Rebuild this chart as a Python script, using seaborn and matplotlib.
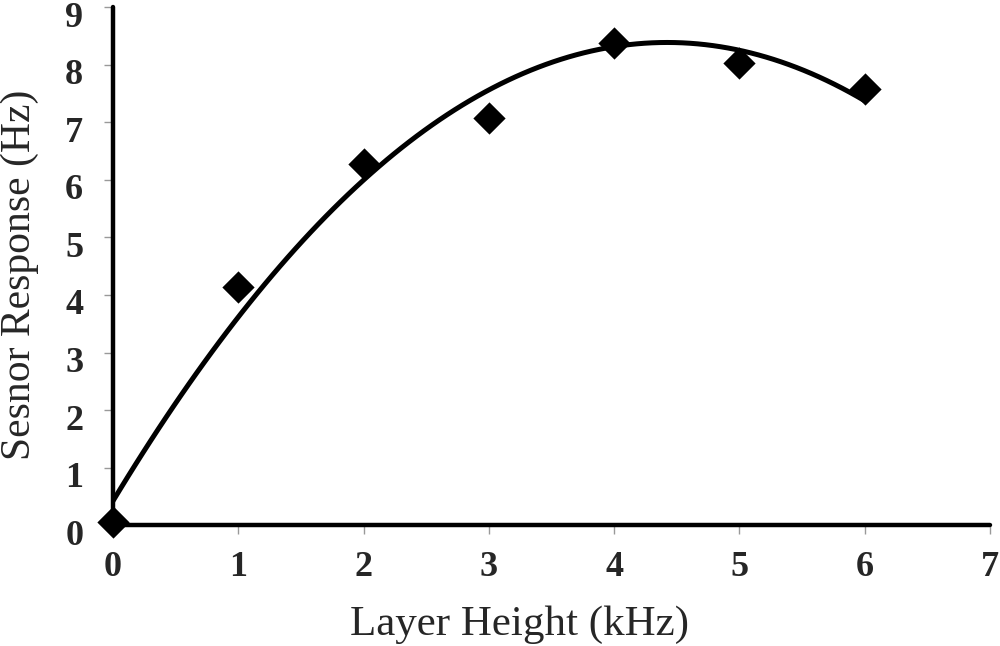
import pandas as pd
import matplotlib.pyplot as plt
import matplotlib.transforms as mtransforms
import seaborn as sns

# values
layer_height = [0, 1, 2, 3, 4, 5, 6]
sensor_response = [0.05, 4.14, 6.28, 7.08, 8.38, 8.03, 7.57]
x_ticks = [0, 1, 2, 3, 4, 5, 6, 7]
y_ticks = [0, 1, 2, 3, 4, 5, 6, 7, 8, 9]

df = pd.DataFrame({"height": layer_height, "response": sensor_response})

sns.set_theme(style="white")
plt.rcParams['font.family'] = ['Liberation Serif', 'DejaVu Serif']

fig = plt.figure(figsize=(10, 6.46), dpi=100)
ax = fig.add_axes([0.113, 0.187, 0.877, 0.802])

# quadratic trend line plus the measured points
sns.regplot(
    data=df, x="height", y="response", order=2, ci=None, ax=ax,
    marker="D", color="black",
    scatter_kws={"s": 270, "zorder": 4, "clip_on": False, "linewidths": 0, "alpha": 1},
    line_kws={"lw": 3.6, "color": "black"},
)

ax.set_xlim(0, 7)
ax.set_ylim(0, 9)
ax.set_xticks(x_ticks)
ax.set_yticks(y_ticks)
ax.set_xlabel("Layer Height (kHz)", fontsize=31, va="center")
ax.set_ylabel("Sesnor Response (Hz)", fontsize=30, va="center")
ax.xaxis.set_label_coords(0.463, -0.193)
ax.yaxis.set_label_coords(-0.106, 0.483)

ax.tick_params(axis="both", direction="out", length=6.5, width=1, color="#999999",
               bottom=True, left=True)
ax.tick_params(axis="x", pad=12)
ax.tick_params(axis="y", pad=15)

# y labels sit a little below their ticks, as in the original
shift = mtransforms.ScaledTranslation(0, -5 / 72, fig.dpi_scale_trans)
for lab in ax.get_yticklabels():
    lab.set_transform(lab.get_transform() + shift)
for lab in ax.get_xticklabels() + ax.get_yticklabels():
    lab.set_fontweight("bold")
    lab.set_fontsize(26)

sns.despine(ax=ax)
for side in ["left", "bottom"]:
    ax.spines[side].set_linewidth(3.2)
    ax.spines[side].set_color("black")
    ax.spines[side].set_capstyle("round")

fig.savefig("out.png", dpi=100)
